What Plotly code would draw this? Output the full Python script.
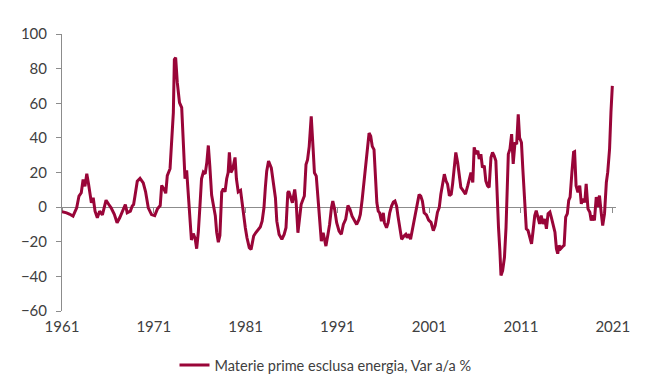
import plotly.graph_objects as go

years = [
    1961.0, 1961.3, 1961.5, 1961.8, 1962.2, 1962.6, 1962.85, 1963.1, 1963.3, 1963.5,
    1963.7, 1963.9, 1964.05, 1964.2, 1964.4, 1964.6, 1964.85, 1965.1, 1965.4, 1965.8,
    1966.1, 1966.35, 1966.7, 1967.0, 1967.3, 1967.7, 1967.9, 1968.1, 1968.45, 1968.65,
    1968.8, 1968.95, 1969.2, 1969.5, 1969.85, 1970.1, 1970.4, 1970.75, 1971.1, 1971.4,
    1971.7, 1971.86, 1972.1, 1972.3, 1972.47, 1972.77, 1972.95, 1973.13, 1973.24, 1973.38,
    1973.56, 1973.8, 1974.04, 1974.2, 1974.4, 1974.58, 1974.76, 1974.94, 1975.1, 1975.3,
    1975.5, 1975.67, 1975.85, 1976.03, 1976.2, 1976.4, 1976.6, 1976.78, 1976.94, 1977.1,
    1977.3, 1977.5, 1977.7, 1977.85, 1978.03, 1978.2, 1978.4, 1978.58, 1978.76, 1978.94,
    1979.1, 1979.23, 1979.4, 1979.6, 1979.85, 1980.0, 1980.2, 1980.45, 1980.65, 1980.8,
    1980.97, 1981.15, 1981.4, 1981.6, 1981.88, 1982.1, 1982.35, 1982.6, 1982.8, 1983.0,
    1983.15, 1983.3, 1983.5, 1983.8, 1984.05, 1984.25, 1984.4, 1984.65, 1984.95, 1985.2,
    1985.4, 1985.6, 1985.7, 1985.95, 1986.1, 1986.35, 1986.5, 1986.7, 1986.9, 1987.05,
    1987.25, 1987.4, 1987.58, 1987.75, 1987.93, 1988.15, 1988.35, 1988.5, 1988.7, 1988.9,
    1989.07, 1989.25, 1989.45, 1989.6, 1989.75, 1989.97, 1990.15, 1990.35, 1990.5, 1990.7,
    1990.92, 1991.18, 1991.43, 1991.65, 1991.9, 1992.15, 1992.37, 1992.6, 1992.87, 1993.1,
    1993.35, 1993.5, 1993.7, 1993.9, 1994.08, 1994.26, 1994.45, 1994.63, 1994.8, 1994.99,
    1995.17, 1995.3, 1995.45, 1995.6, 1995.8, 1996.0, 1996.12, 1996.35, 1996.53, 1996.7,
    1996.9, 1997.1, 1997.27, 1997.45, 1997.6, 1997.8, 1998.0, 1998.25, 1998.45, 1998.6,
    1998.8, 1998.97, 1999.15, 1999.35, 1999.5, 1999.7, 1999.9, 2000.08, 2000.26, 2000.45,
    2000.7, 2000.94, 2001.2, 2001.45, 2001.65, 2001.9, 2002.1, 2002.27, 2002.47, 2002.65,
    2002.83, 2003.0, 2003.2, 2003.4, 2003.55, 2003.75, 2003.9, 2004.1, 2004.3, 2004.45,
    2004.7, 2004.95, 2005.2, 2005.4, 2005.55, 2005.75, 2005.9, 2006.1, 2006.3, 2006.45,
    2006.63, 2006.8, 2007.0, 2007.17, 2007.35, 2007.53, 2007.73, 2007.9, 2008.08, 2008.26,
    2008.4, 2008.55, 2008.7, 2008.82, 2009.0, 2009.2, 2009.37, 2009.47, 2009.62, 2009.8,
    2009.98, 2010.15, 2010.35, 2010.53, 2010.7, 2010.85, 2011.05, 2011.2, 2011.4, 2011.58,
    2011.77, 2011.96, 2012.15, 2012.3, 2012.5, 2012.66, 2012.85, 2013.03, 2013.2, 2013.4,
    2013.6, 2013.77, 2013.95, 2014.15, 2014.3, 2014.5, 2014.7, 2014.86, 2015.0, 2015.15,
    2015.33, 2015.5, 2015.7, 2015.87, 2016.05, 2016.2, 2016.35, 2016.55, 2016.73, 2016.84,
    2017.0, 2017.2, 2017.4, 2017.57, 2017.75, 2017.95, 2018.1, 2018.3, 2018.5, 2018.65,
    2018.83, 2019.0, 2019.2, 2019.37, 2019.55, 2019.73, 2019.9, 2020.1, 2020.3, 2020.45,
    2020.65, 2020.8, 2020.95,
]

values = [
    -2.7, -3.0, -3.3, -4.0, -5.2, -0.4, 6.4, 8.3, 16, 12,
    19.3, 13, 7.3, 2.5, 5.4, -2.3, -6.2, -2.3, -4.5, 4,
    1.5, -0.4, -4.2, -9, -6, -1, 1.5, -3.3, -2.3, 0.6,
    1.5, 6.4, 15, 16.6, 14, 9, -0.4, -4.3, -4.9, -1,
    0.9, 12.5, 10.5, 8, 18.2, 22.2, 35.6, 54.6, 85.3, 86.3,
    71.9, 60.4, 57.5, 35.6, 16.4, 21.2, 8.8, -6.5, -19, -15.3,
    -18, -24, -14.5, 0.9, 16.4, 20.2, 19.2, 26, 35.6, 24,
    7, 0.9, -4.9, -14.5, -20.3, -16.4, 8.8, 10.7, 8.8, 16.4,
    20, 31.6, 20, 22, 28.7, 16.4, 8.8, 9.7, 1, -6.1,
    -11.9, -17.7, -23.4, -24.4, -16.7, -14.8, -12.9, -11.5, -8.1, -0.4,
    11.2, 20.8, 26.6, 22.7, 13.1, 5.4, -8.1, -15.8, -18.6, -15.8,
    -11.9, 8.3, 9.2, 5.4, 2.5, 10.2, 3.5, -14.8, -6.1, 1.5,
    4.4, 6.4, 24.6, 27.4, 35.1, 52.4, 34.2, 19.8, 17.9, 5.4,
    -10, -19.6, -14.8, -19.6, -22.5, -15.8, -10, -0.4, 3.5, -1.3,
    -9, -13.8, -15.7, -10, -7.1, 1, -1.3, -5.2, -8.1, -10,
    -7.1, -4.2, 4.4, 14, 25.5, 35.1, 42.8, 40.9, 35.1, 33.2,
    17.8, 2.5, -2.3, -3.3, -8.1, -3.3, -9, -11.9, -9, -3.3,
    0.6, 2.9, 3.5, 0.6, -5.2, -11, -18.6, -16.7, -15.7, -17.7,
    -15.7, -18.6, -13.8, -7.1, -4.2, 2.5, 7.3, 6.4, 3.5, -3.3,
    -4.5, -7.5, -8.8, -13.6, -10.7, -3, -0.2, 7.5, 15.2, 19,
    15.2, 13.3, 6.6, 7.5, 13.3, 22.9, 31.6, 25.8, 19, 11.4,
    9.5, 7.5, 12.4, 16.2, 20, 14.3, 34.5, 30.6, 32.6, 27.8,
    30.6, 22.9, 23.9, 15.2, 12.4, 11.4, 28.7, 31.6, 29.7, 26.8,
    3.7, -11.7, -25.2, -39.5, -36.7, -29, -11.7, 5.6, 30.6, 33.6,
    42.2, 25, 37.4, 36.4, 53.6, 40, 37.3, 22, 2.8, -12.5,
    -13.5, -18.3, -21.2, -14.5, -4.9, -2, -6.8, -9.7, -4.9, -9.7,
    -6.8, -12.5, -3.8, -2.8, -5.8, -10.6, -14.5, -24, -26.9, -22.1,
    -24, -23, -22.1, -5.8, -3.8, 3.9, 5.8, 20.2, 31.7, 32,
    12.4, 8.6, 12.4, 1.9, 4.8, 2.8, 13.4, -1, -2.9, -7.7,
    -4.8, -7.7, 5.8, 0, 6.7, -2.9, -10.6, -3.8, 14.4, 20.2,
    33.6, 54.7, 70,
]

tick_years = [1961, 1971, 1981, 1991, 2001, 2011, 2021]
tick_labels = ["1961", "1971", "1981", "1991", "2001", "2011", "2021"]
y_ticks = [-60, -40, -20, 0, 20, 40, 60, 80, 100]

series_name = "Materie prime esclusa energia, Var a/a %"
line_color = "#990538"
axis_color = "#8c8c8c"
text_color = "#404040"

x_range = [1961, 2021.35]
y_range = [-60, 100]

fig = go.Figure()
# invisible helper so the zero-line axis is created
fig.add_trace(go.Scatter(x=[x_range[0]], y=[None], xaxis="x2", yaxis="y",
                         showlegend=False, hoverinfo="skip", mode="lines"))
fig.add_trace(go.Scatter(
    x=years, y=values, mode="lines", name=series_name,
    line=dict(color=line_color, width=3),
))

fig.update_layout(
    width=651, height=385,
    margin=dict(l=62, r=35, t=34, b=74),
    paper_bgcolor="white", plot_bgcolor="white",
    font=dict(family="Lato, 'Open Sans', sans-serif", size=15, color=text_color),
    showlegend=True,
    legend=dict(orientation="h", xref="container", yref="container",
                x=0.5, xanchor="center", y=0.052, yanchor="middle",
                font=dict(size=14.5, color=text_color), itemwidth=30),
    xaxis=dict(range=x_range, tickvals=tick_years, ticktext=tick_labels,
               showline=False, ticks="", showgrid=False, zeroline=False,
               ticklabelstandoff=5),
    xaxis2=dict(range=x_range, overlaying="x", anchor="free",
                position=(0 - y_range[0]) / (y_range[1] - y_range[0]),
                tickvals=tick_years, showticklabels=False, ticks="outside",
                ticklen=5, tickcolor=axis_color, showline=True,
                linecolor=axis_color, linewidth=1, showgrid=False,
                zeroline=False, layer="below traces"),
    yaxis=dict(range=y_range, tickvals=y_ticks, showline=True,
               linecolor=axis_color, linewidth=1, ticks="outside", ticklen=5,
               tickcolor=axis_color, showgrid=False, zeroline=False,
               ticklabelstandoff=6),
)

fig.write_html(
    "out.html",
    config={"displayModeBar": False},
    post_script="document.body.style.margin='0';document.body.style.overflow='hidden';",
)
